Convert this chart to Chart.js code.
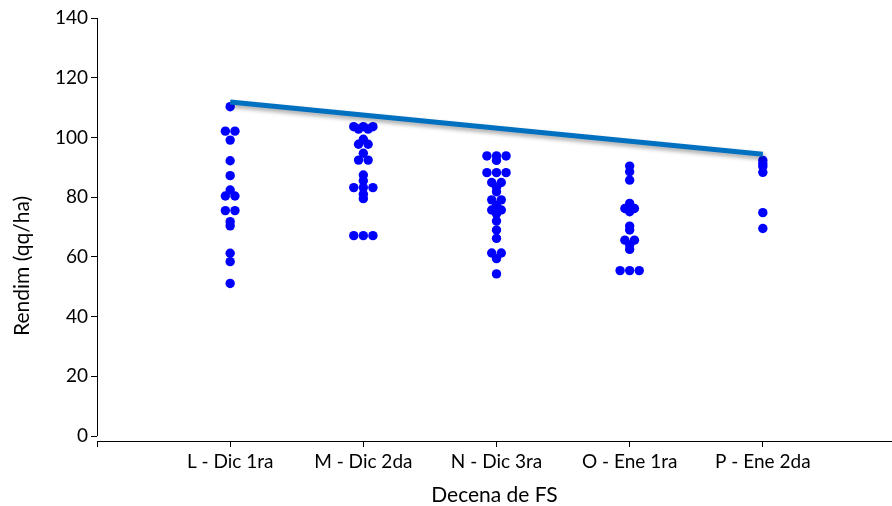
<!DOCTYPE html>
<html>
<head>
  <title>Rendimiento por decena de FS</title>
  <script src="https://cdn.jsdelivr.net/npm/chart.js"></script>
  <style>
    html, body {
      margin: 0;
      padding: 0;
      background: #fff;
    }
    #wrap {
      width: 892px;
      height: 506px;
    }
  </style>
</head>
<body>
  <div id="wrap"><canvas id="rendChart"></canvas></div>

  <script>
    // categories (decena de fecha de siembra)
    const categories = ['L - Dic 1ra', 'M - Dic 2da', 'N - Dic 3ra', 'O - Ene 1ra', 'P - Ene 2da'];

    // rendimiento (qq/ha) per category
    const rendL = [110.3, 102.1, 102.1, 99.1, 92.2, 87.2, 82.4, 80.4, 80.4, 75.5, 75.5, 71.8, 70.4, 61.2, 58.4, 51.1];
    const rendM = [103.6, 103.6, 103.6, 102.8, 102.8, 99.4, 97.7, 97.7, 94.7, 92.4, 92.4, 87.4, 85.5,
                   83.2, 83.2, 83.2, 81.0, 79.5, 67.1, 67.1, 67.1];
    const rendN = [93.8, 93.8, 93.8, 92.3, 88.2, 88.2, 88.2, 84.9, 84.9, 83.3, 81.8, 79.1, 79.1, 77.3,
                   75.7, 75.7, 74.4, 72.0, 69.0, 66.2, 61.3, 61.3, 59.4, 54.3];
    const rendO = [90.4, 88.5, 85.7, 77.9, 76.2, 76.2, 75.1, 70.3, 69.0, 65.6, 65.6, 64.0, 62.5, 55.4, 55.4, 55.4];
    const rendP = [92.3, 91.2, 90.3, 88.3, 74.8, 69.5];

    // trend line, at first and last category
    const trendX = [1, 5];
    const trendY = [111.9, 94.4];

    const yTicks = [0, 20, 40, 60, 80, 100, 120, 140];

    const allSeries = [rendL, rendM, rendN, rendO, rendP];
    const dotStep = 0.072; // one dot width in category units

    // equal values sit side by side, centred on the category
    function swarm(values, catIndex) {
      const counts = {};
      values.forEach(v => { counts[v] = (counts[v] || 0) + 1; });
      const seen = {};
      return values.map(v => {
        const n = counts[v];
        const i = seen[v] || 0;
        seen[v] = i + 1;
        return { x: catIndex + (i - (n - 1) / 2) * dotStep, y: v };
      });
    }

    const points = [];
    allSeries.forEach((vals, i) => points.push(...swarm(vals, i + 1)));

    const FONT = 'Lato';

    const lineShadow = {
      id: 'lineShadow',
      beforeDatasetDraw(chart, args) {
        if (args.index !== 0) return;
        const ctx = chart.ctx;
        ctx.save();
        ctx.shadowColor = 'rgba(0,0,0,0.35)';
        ctx.shadowBlur = 4;
        ctx.shadowOffsetX = 2;
        ctx.shadowOffsetY = 3;
      },
      afterDatasetDraw(chart, args) {
        if (args.index !== 0) return;
        chart.ctx.restore();
      }
    };

    const axisExtras = {
      id: 'axisExtras',
      afterDraw(chart) {
        const ctx = chart.ctx;
        const y = chart.scales.y;
        const left = chart.chartArea.left;
        ctx.save();
        ctx.strokeStyle = '#000';
        ctx.lineWidth = 1;
        ctx.beginPath();
        ctx.moveTo(left + 0.5, y.getPixelForValue(140));
        ctx.lineTo(left + 0.5, y.getPixelForValue(0));
        ctx.stroke();

        ctx.translate(22, 266);
        ctx.rotate(-Math.PI / 2);
        ctx.font = '21px ' + FONT;
        ctx.fillStyle = '#000';
        ctx.textAlign = 'center';
        ctx.textBaseline = 'middle';
        ctx.fillText('Rendim (qq/ha)', 0, 0);
        ctx.restore();
      }
    };

    const ctx = document.getElementById('rendChart').getContext('2d');
    new Chart(ctx, {
      type: 'scatter',
      data: {
        datasets: [
          {
            type: 'line',
            label: 'Tendencia',
            data: trendX.map((x, i) => ({ x: x, y: trendY[i] })),
            borderColor: '#0070C0',
            borderWidth: 5,
            pointRadius: 0,
            fill: false,
            order: 0
          },
          {
            label: 'Rendim',
            data: points,
            backgroundColor: '#0000FF',
            borderWidth: 0,
            pointRadius: 4.7,
            order: 1
          }
        ]
      },
      options: {
        responsive: true,
        maintainAspectRatio: false,
        animation: false,
        layout: { autoPadding: false, padding: { top: 18, right: 0, left: 0, bottom: 0 } },
        plugins: {
          legend: { display: false },
          tooltip: { enabled: false }
        },
        scales: {
          x: {
            type: 'linear',
            min: 0,
            max: 5.97,
            afterBuildTicks: scale => { scale.ticks = [0, 1, 2, 3, 4, 5].map(v => ({ value: v })); },
            afterFit: scale => { scale.height = 65; },
            ticks: {
              autoSkip: false,
              maxRotation: 0,
              padding: 3,
              color: '#000',
              font: { family: FONT, size: 19 },
              callback: v => categories[v - 1] || ''
            },
            grid: { drawOnChartArea: false, tickLength: 6, color: '#000' },
            border: { display: true, color: '#000', width: 1 },
            title: {
              display: true,
              text: 'Decena de FS',
              color: '#000',
              font: { family: FONT, size: 21, lineHeight: 1 },
              padding: { top: 0, bottom: 0 }
            }
          },
          y: {
            min: -1.67,
            max: 140,
            afterBuildTicks: scale => { scale.ticks = yTicks.map(v => ({ value: v })); },
            afterFit: scale => { scale.width = 97; },
            ticks: {
              padding: 3,
              color: '#000',
              font: { family: FONT, size: 19 }
            },
            grid: { drawOnChartArea: false, tickLength: 6, color: '#000' },
            border: { display: false }
          }
        }
      },
      plugins: [lineShadow, axisExtras]
    });
  </script>
</body>
</html>
